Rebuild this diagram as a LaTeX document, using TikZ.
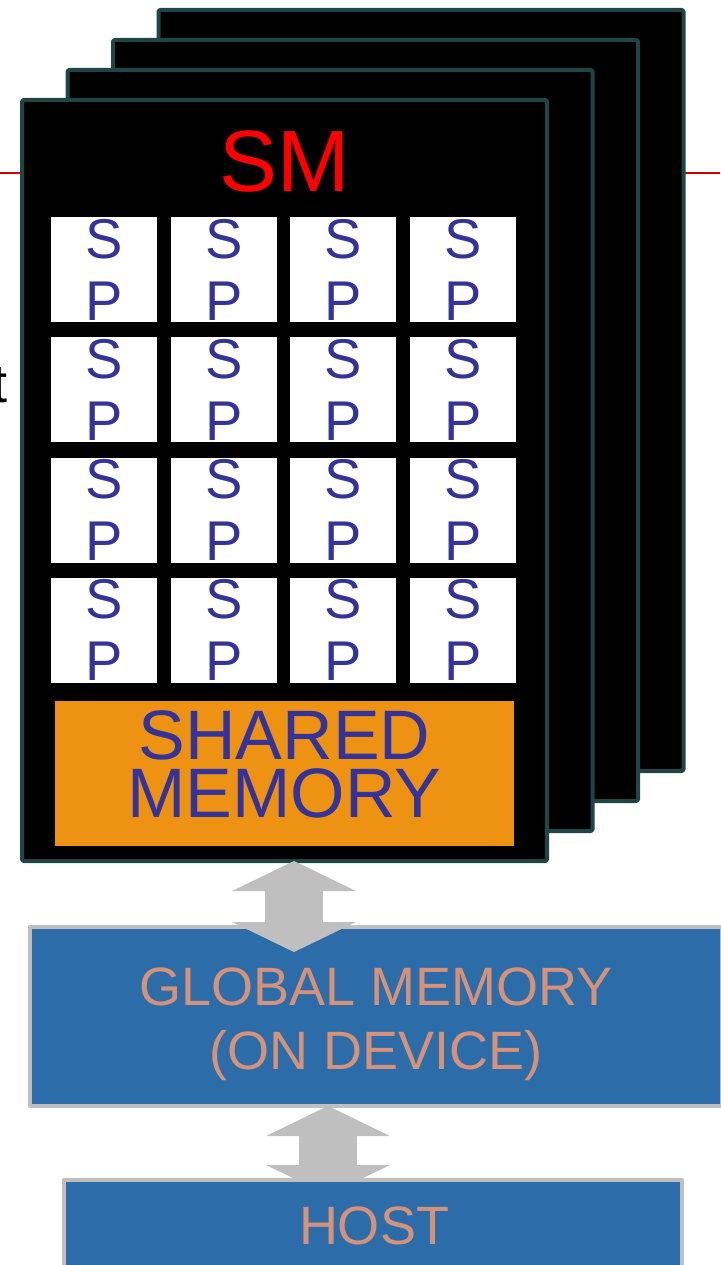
\documentclass[tikz,border=0pt]{standalone}
\usepackage{fontspec}
\setmainfont{Liberation Sans}
\usetikzlibrary{arrows.meta}

\definecolor{smedge}{HTML}{1F4545}
\definecolor{spink}{HTML}{333399}
\definecolor{shared}{HTML}{EE9213}
\definecolor{busgrey}{HTML}{BFBFBF}
\definecolor{memblue}{HTML}{2C6DA9}
\definecolor{memtext}{HTML}{D4927A}
\definecolor{slidered}{HTML}{D40000}

\begin{document}
\begin{tikzpicture}[
  x=1pt, y=-1pt,
  line join=round,
  every node/.style={inner sep=0pt, outer sep=0pt},
  card/.style={draw=smedge, fill=black, line width=4pt, rounded corners=1.5pt,
    minimum width=525pt, minimum height=761pt},
  smlabel/.style={text=red, font=\fontsize{87}{87}\selectfont},
  spcell/.style={fill=white, minimum width=106pt, minimum height=105pt,
    text=spink, align=center, font=\fontsize{56}{62}\selectfont},
  sharedbox/.style={fill=shared, minimum width=459pt, minimum height=145pt},
  sharedlabel/.style={text=spink, align=center, font=\fontsize{70}{58}\selectfont},
  membox/.style={draw=busgrey, fill=memblue, line width=4.5pt},
  memlabel/.style={text=memtext, align=center, font=\fontsize{54}{64}\selectfont},
  bustip/.tip={Triangle[width=124pt, length=30pt, line width=0pt]},
  bus/.style={draw=busgrey, line width=58pt, bustip-bustip},
]
\useasboundingbox (0,0) rectangle (720,1265);

% slide rule behind the stack
\draw[slidered, line width=2.5pt] (0,173) -- (720,173);
\node[font=\fontsize{54}{54}\selectfont, anchor=base east] (cutoff) at (8,402) {t};

% stack of SMs, back to front
\foreach \k in {3,2,1,0}
  \node[card] (card\k) at (284.5+45.5*\k, 480.5-30*\k) {};
\node[smlabel, anchor=base] (smtitle) at (285,192) {SM};

% 4x4 streaming processors
\foreach \r in {1,...,4}
  \foreach \c in {1,...,4}
    \node[spcell] (sp\r\c) at (104+119.7*\c-119.7, 269.5+120.3*\r-120.3) {S\\P};

\node[sharedbox] (shm) at (284.5,773.5) {};
\node[sharedlabel] (shmlabel) at (284.5,764) {SHARED\\MEMORY};

% device memory
\node[membox, minimum width=692pt, minimum height=179pt] (glob) at (376,1016.5) {};
\node[memlabel] (globlabel) at (376,1024) {GLOBAL MEMORY\\(ON DEVICE)};

\coordinate (bus1a) at ([xshift=9.5pt]card0.south);
\path (bus1a |- glob.north) ++(0,25) coordinate (bus1b);
\draw[bus] (bus1a) -- (bus1b);

\coordinate (bus2a) at ([xshift=-48pt]glob.south);
\path (bus2a) ++(0,89) coordinate (bus2b);
\draw[bus] (bus2a) -- (bus2b);

\node[membox, minimum width=618pt, minimum height=120pt] (host) at (373,1240) {};
\node[memlabel, anchor=base] (hostlabel) at (374,1244) {HOST};
\end{tikzpicture}
\end{document}
